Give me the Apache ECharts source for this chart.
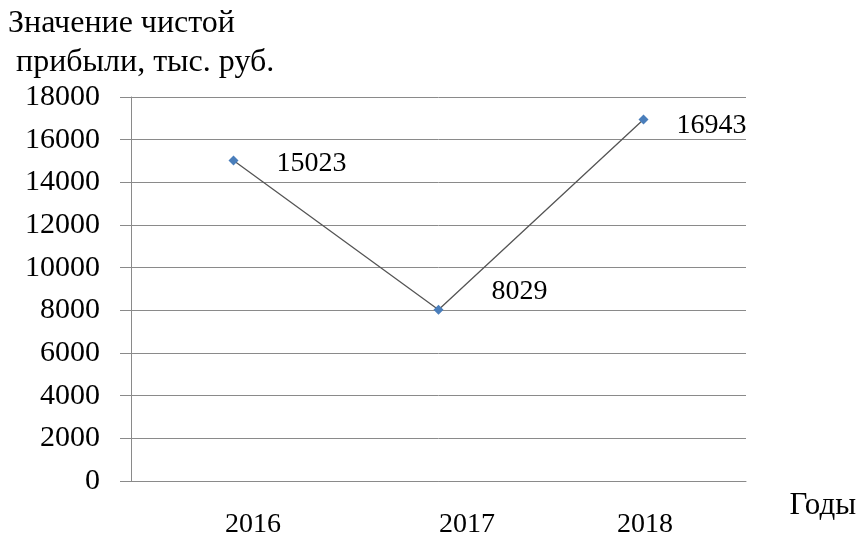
<!DOCTYPE html>
<html><head><meta charset="utf-8">
<script src="https://cdn.jsdelivr.net/npm/echarts@6/dist/echarts.min.js"></script>
<style>html,body{margin:0;padding:0;background:#fff}#c{width:859px;height:533px}</style>
</head><body><div id="c"></div>
<script>
var categories = ['2016', '2017', '2018'];
var profit = [15023, 8029, 16943];
var yTicks = [0, 2000, 4000, 6000, 8000, 10000, 12000, 14000, 16000, 18000];
var yTitle = 'Значение чистой\n прибыли, тыс. руб.';
var xTitle = 'Годы';

var FONT = 'Liberation Serif';
var labelShift = [39, 57, 3];
var chart = echarts.init(document.getElementById('c'));
chart.setOption({
  animation: false,
  backgroundColor: '#fff',
  textStyle: { fontFamily: FONT, color: '#000' },
  title: {
    text: yTitle, left: 8, top: 4, padding: 0,
    textStyle: { fontFamily: FONT, fontSize: 32, fontWeight: 'normal', color: '#000', lineHeight: 39 }
  },
  graphic: [{
    type: 'text', right: 3, top: 490,
    style: { text: xTitle, fontFamily: FONT, fontSize: 31, fill: '#000' }
  }],
  grid: { left: 131, right: 113, top: 97, bottom: 52, containLabel: false, outerBoundsMode: 'none' },
  xAxis: {
    type: 'category', data: categories, boundaryGap: true,
    axisLine: { lineStyle: { color: '#8a8a8a', width: 1 } },
    axisTick: { show: false },
    axisLabel: {
      margin: 30, fontFamily: FONT, fontSize: 28, color: '#000',
      formatter: function (v, i) { return '{s' + i + '|' + v + '}'; },
      rich: {
        s0: { padding: [0, 0, 0, labelShift[0]], fontFamily: FONT, fontSize: 28, color: '#000' },
        s1: { padding: [0, 0, 0, labelShift[1]], fontFamily: FONT, fontSize: 28, color: '#000' },
        s2: { padding: [0, 0, 0, labelShift[2]], fontFamily: FONT, fontSize: 28, color: '#000' }
      }
    }
  },
  yAxis: {
    type: 'value', min: yTicks[0], max: yTicks[yTicks.length - 1], interval: 2000,
    axisLine: { show: true, lineStyle: { color: '#8a8a8a', width: 1 } },
    axisTick: { show: true, length: 11, lineStyle: { color: '#8a8a8a' } },
    splitLine: { show: true, lineStyle: { color: '#8a8a8a', width: 1 } },
    axisLabel: { margin: 31, fontFamily: FONT, fontSize: 30, color: '#000',
      formatter: function (v) { return String(v); } }
  },
  series: [{
    type: 'line', data: profit,
    symbol: 'diamond', symbolSize: 10,
    itemStyle: { color: '#4a7ebb' },
    lineStyle: { color: '#555', width: 1.3 },
    label: {
      show: true, position: 'right', distance: 38,
      fontFamily: FONT, fontSize: 28, color: '#000'
    },
    labelLayout: function (p) {
      if (p.dataIndex === 1) return { dy: -18, dx: 10 };
      if (p.dataIndex === 2) return { dx: -10, dy: 6 };
      return { dy: 3 };
    }
  }]
});
</script></body></html>
